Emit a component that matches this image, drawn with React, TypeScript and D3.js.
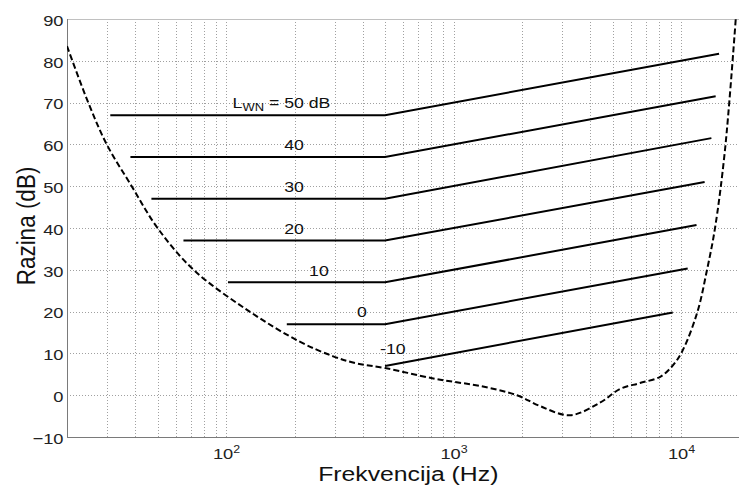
import { useEffect, useRef } from 'react';
import * as d3 from 'd3';

// axis ticks
const yTicks = [-10, 0, 10, 20, 30, 40, 50, 60, 70, 80, 90];
const xMajor = [100, 1000, 10000];
const xExponents = ['2', '3', '4'];
const xGrid = [20, 30, 40, 50, 60, 70, 80, 90, 100, 200, 300, 400, 500, 600, 700, 800, 900,
    1000, 2000, 3000, 4000, 5000, 6000, 7000, 8000, 9000, 10000, 20000];

// hearing threshold (dashed curve)
const thresholdFreq = [20, 24.8, 29.9, 38.5, 50, 72, 127, 211, 296, 375, 500, 815, 1000, 1309, 1900,
    2400, 3250, 4400, 5400, 6600, 8100, 9100, 10100, 11800, 13000, 14100, 15600, 17400];
const thresholdDb = [83.5, 70, 60, 50, 40, 30, 20, 12.8, 9.3, 7.6, 6.5, 4.0, 3.2, 2.2, 0,
    -2.6, -4.8, -1.8, 1.5, 2.9, 4.4, 6.8, 10.4, 19.9, 29.9, 39.9, 58.6, 90];

// L_WN curves
const levels = ['50', '40', '30', '20', '10', '0', '-10'];
const lineStartFreq = [31, 38, 47, 65, 102, 185, 500];
const kneeFreq = 500;
const kneeDb = [67, 57, 47, 37, 27, 17, 7];
const lineEndFreq = [14700, 14200, 13600, 12700, 11700, 10700, 9200];
const lineEndDb = [81.7, 71.5, 61.5, 51, 40.7, 30.3, 19.8];
const labelFreq = [199, 199, 199, 199, 256, 396, 541];
const labelDb = [68.6, 58.6, 48.6, 38.6, 28.6, 18.6, 9.8];

const FONT = '"Liberation Sans", Arial, Helvetica, sans-serif';
const SX = 1.18; // the original text is a little wide

export default function App() {
    const svgRef = useRef<SVGSVGElement | null>(null);

    useEffect(() => {
        if (!svgRef.current) return;
        const svg = d3.select(svgRef.current);
        svg.selectAll('*').remove();

        const left = 67, top = 19, right = 749.5, bottom = 437;
        const x = d3.scaleLog().domain([20, 20000]).range([left, right]);
        const y = d3.scaleLinear().domain([-10, 90]).range([bottom, top]);

        svg.append('defs').append('clipPath').attr('id', 'plot')
            .append('rect').attr('x', left).attr('y', top)
            .attr('width', right - left).attr('height', bottom - top);

        // grid
        const grid = svg.append('g').attr('stroke', '#a0a0a0').attr('stroke-width', 1)
            .attr('stroke-dasharray', '1,2');
        grid.selectAll('line.v').data(xGrid).join('line').attr('class', 'v')
            .attr('x1', d => Math.round(x(d)) + 0.5).attr('x2', d => Math.round(x(d)) + 0.5)
            .attr('y1', top).attr('y2', bottom);
        grid.selectAll('line.h').data(yTicks.slice(1, -1)).join('line').attr('class', 'h')
            .attr('x1', left).attr('x2', right)
            .attr('y1', d => Math.round(y(d)) + 0.5).attr('y2', d => Math.round(y(d)) + 0.5);

        // box
        svg.append('line').attr('x1', left).attr('x2', right).attr('y1', top + 0.5).attr('y2', top + 0.5)
            .attr('stroke', '#c0c0c0');
        svg.append('line').attr('x1', left + 0.5).attr('x2', left + 0.5).attr('y1', top).attr('y2', bottom)
            .attr('stroke', '#7a7a7a');
        svg.append('line').attr('x1', left).attr('x2', right).attr('y1', bottom + 0.5).attr('y2', bottom + 0.5)
            .attr('stroke', '#7a7a7a');

        // y axis
        const yAxis = svg.append('g').attr('transform', `translate(${left},0)`)
            .call(d3.axisLeft(y).tickValues(yTicks).tickSize(0).tickPadding(3).tickFormat(d3.format('d')));
        yAxis.select('.domain').remove();
        yAxis.selectAll('text').attr('font-size', 15.5).attr('font-family', FONT).attr('fill', '#222')
            .attr('dy', '0.4em').attr('transform', `scale(${SX},1)`);

        // x axis
        const xAxis = svg.append('g').attr('transform', `translate(0,${bottom})`)
            .call(d3.axisBottom(x).tickValues(xMajor).tickSize(0).tickFormat(() => ''));
        xAxis.select('.domain').remove();
        xAxis.selectAll('.tick text').remove();
        xAxis.selectAll<SVGGElement, number>('.tick').each(function (_d, i) {
            const t = d3.select(this).append('text')
                .attr('transform', `translate(0,22) scale(${SX},1)`)
                .attr('text-anchor', 'middle').attr('font-family', FONT)
                .attr('font-size', 15.5).attr('fill', '#222');
            t.append('tspan').text('10');
            t.append('tspan').attr('dy', -6).attr('font-size', 10.5).text(xExponents[i]);
        });

        // axis titles
        svg.append('text').attr('transform', `translate(${(left + right) / 2},481) scale(${SX},1)`)
            .attr('text-anchor', 'middle').attr('font-family', FONT).attr('font-size', 21)
            .attr('fill', '#111').text('Frekvencija (Hz)');
        svg.append('text').attr('transform', `translate(35,226) scale(${SX},1) rotate(-90)`)
            .attr('text-anchor', 'middle').attr('font-family', FONT).attr('font-size', 22.5)
            .attr('fill', '#111').text('Razina (dB)');

        const plot = svg.append('g').attr('clip-path', 'url(#plot)');

        // level lines
        const line = d3.line<[number, number]>().x(d => x(d[0])).y(d => y(d[1]));
        levels.forEach((_l, i) => {
            plot.append('path')
                .attr('d', line([[lineStartFreq[i], kneeDb[i]], [kneeFreq, kneeDb[i]], [lineEndFreq[i], lineEndDb[i]]]))
                .attr('fill', 'none').attr('stroke', '#000').attr('stroke-width', 2);
        });

        // threshold curve
        const thr = thresholdFreq.map((f, i) => [f, thresholdDb[i]] as [number, number]);
        plot.append('path')
            .attr('d', d3.line<[number, number]>().x(d => x(d[0])).y(d => y(d[1]))
                .curve(d3.curveCatmullRom.alpha(0.5))(thr))
            .attr('fill', 'none').attr('stroke', '#000').attr('stroke-width', 2)
            .attr('stroke-dasharray', '6,3');

        // labels
        levels.forEach((l, i) => {
            const g = svg.append('g')
                .attr('transform', `translate(${x(labelFreq[i])},${y(labelDb[i])}) scale(${SX},1)`)
                .attr('font-family', FONT).attr('font-size', 15).attr('fill', '#111');
            g.append('text').attr('text-anchor', 'middle').text(l);
            if (i === 0) {
                const pre = g.append('text').attr('text-anchor', 'end').attr('x', -12.5);
                pre.append('tspan').text('L');
                pre.append('tspan').attr('dy', 3).attr('font-size', 11).text('WN');
                pre.append('tspan').attr('dy', -3).text('\u00a0=');
                g.append('text').attr('x', 12.5).text('dB');
            }
        });

        return () => { svg.selectAll('*').remove(); };
    }, []);

    return (
        <svg ref={svgRef} width={739} height={487}
            style={{ position: 'absolute', left: 0, top: 0, background: '#fff' }} />
    );
}
